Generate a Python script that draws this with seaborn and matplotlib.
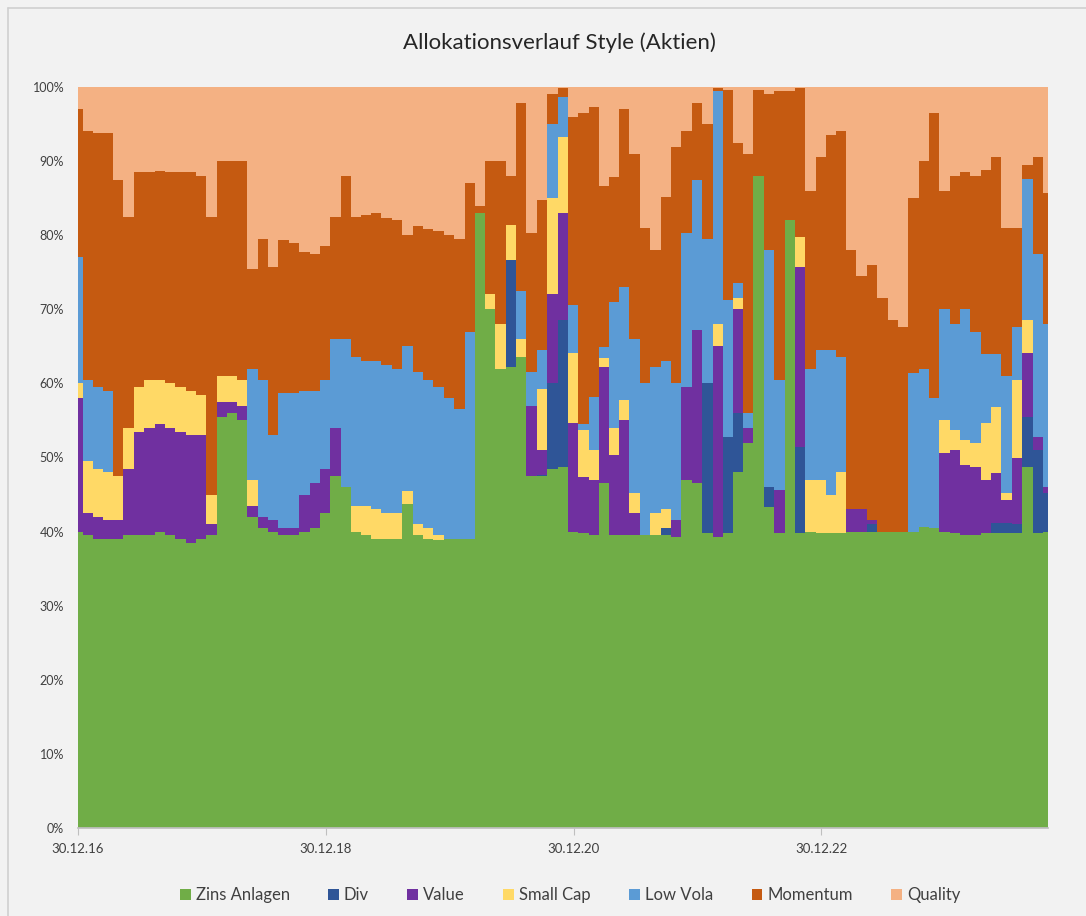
import seaborn as sns
import matplotlib.pyplot as plt
import matplotlib.ticker as mticker
from matplotlib.lines import Line2D
import pandas as pd
import numpy as np

sns.set_theme(style='white')
plt.rcParams['font.family'] = ['Lato', 'DejaVu Sans']

# monthly allocation shares in %, starting 30.12.16
zins = [40, 39.5, 39, 39, 39, 39.5, 39.5, 39.5, 40, 39.5,
        39, 38.5, 39, 39.5, 55.5, 56, 55, 42, 40.5, 40,
        39.5, 39.5, 40, 40.5, 42.5, 47.5, 46, 40, 39.5, 39,
        39, 39, 43.7, 39.5, 39, 38.8, 39, 39, 39, 83,
        70, 62, 62.2, 63.5, 47.5, 47.5, 48.5, 48.7, 40, 39.8,
        39.5, 46.5, 39.6, 39.6, 39.6, 39.6, 39.6, 39.6, 39.3, 47,
        46.5, 39.8, 39.3, 39.8, 48, 52, 88, 43.3, 39.8, 82,
        39.8, 40, 39.8, 39.8, 39.8, 40, 40, 40, 40, 40,
        40, 40, 40.6, 40.5, 40, 39.8, 39.5, 39.5, 39.8, 39.8,
        39.8, 39.8, 48.7, 39.8, 40]
div = [0, 0, 0, 0, 0, 0, 0, 0, 0, 0,
       0, 0, 0, 0, 0, 0, 0, 0, 0, 0,
       0, 0, 0, 0, 0, 0, 0, 0, 0, 0,
       0, 0, 0, 0, 0, 0, 0, 0, 0, 0,
       0, 0, 14.5, 0, 0, 0.2, 11.5, 19.8, 0, 0,
       0, 0, 0, 0, 0, 0, 0, 0.9, 0, 0,
       0, 20.2, 0, 13, 8, 0, 0, 2.7, 0, 0,
       11.6, 0, 0, 0, 0, 0, 0, 1, 0, 0,
       0, 0, 0, 0, 0, 0, 0, 0, 0, 1.4,
       1.4, 1.2, 6.8, 11.2, 5.2]
value = [18, 3, 3, 2.5, 2.5, 9, 14, 14.5, 14.5, 14.5,
         14.5, 14.5, 14, 1.5, 2, 1.5, 2, 1.5, 1.5, 1.5,
         1, 1, 5, 6, 6, 6.5, 0, 0, 0, 0,
         0, 0, 0, 0, 0, 0, 0, 0, 0, 0,
         0, 0, 0, 0, 9.5, 3.3, 12, 14.5, 14.6, 7.6,
         7.5, 15.7, 10.7, 15.4, 2.9, 0, 0, 0, 2.3, 12.5,
         20.7, 0, 25.7, 0, 14, 2, 0, 0, 5.8, 0,
         24.3, 0, 0, 0, 0, 3, 3, 0.5, 0, 0,
         0, 0, 0, 0, 10.6, 11.2, 9.5, 9.2, 7.2, 6.7,
         3, 9, 8.6, 1.8, 0.8]
small_cap = [2, 7, 6.5, 6.5, 6, 5.5, 6, 6.5, 6, 6,
             6, 6, 5.5, 4, 3.5, 3.5, 3.5, 3.5, 0, 0,
             0, 0, 0, 0, 0, 0, 0, 3.5, 4, 4,
             3.5, 3.5, 1.8, 1.5, 1.5, 0.7, 0, 0, 0, 0,
             2, 6, 4.7, 2.5, 0, 8.3, 13, 10.2, 9.5, 6.3,
             4, 1.2, 3.7, 2.8, 2.7, 0, 2.9, 2.5, 0, 0,
             0, 0, 3, 0, 1.5, 0, 0, 0, 0, 0,
             4.1, 7, 7.2, 5.2, 8.2, 0, 0, 0, 0, 0,
             0, 0, 0, 0, 4.4, 2.7, 3.3, 3.3, 7.6, 8.9,
             1, 10.5, 4.5, 0, 0]
low_vola = [17, 11, 11, 11, 0, 0, 0, 0, 0, 0,
            0, 0, 0, 0, 0, 0, 0, 15, 18.5, 11.5,
            18.2, 18.2, 14, 12.5, 12, 12, 20, 20, 19.5, 20,
            20, 19.5, 19.5, 20.5, 20, 20, 19, 17.5, 28, 0,
            0, 0, 0, 6.5, 4.5, 5.2, 10, 5.4, 6.5, 0.8,
            7.2, 1.5, 17, 15.2, 20.8, 20.4, 19.7, 20, 18.4, 20.8,
            20.2, 19.5, 31.5, 18.5, 2, 2, 0, 32, 14.9, 0,
            0, 15, 17.5, 19.5, 15.5, 0, 0, 0, 0, 0,
            0, 21.4, 21.4, 17.5, 15, 14.3, 17.7, 15, 9.4, 7.2,
            15.8, 7.1, 19, 24.7, 22]
momentum = [20, 33.5, 34.3, 34.8, 40, 28.5, 29, 28, 28.2, 28.5,
            29, 29.5, 29.5, 37.5, 29, 29, 29.5, 13.5, 19, 22.7,
            20.7, 20.3, 18.7, 18.5, 18, 16.5, 22, 19, 19.7, 20,
            19.8, 20, 15, 19.8, 20.3, 21, 22, 23, 20, 1,
            18, 22, 6.6, 25.3, 18.8, 20.2, 4, 1.2, 25.4, 42,
            39.1, 21.8, 16.8, 24, 25, 21, 15.8, 22.2, 31.9, 13.7,
            10.4, 15.5, 0.4, 28.3, 19, 35, 11.6, 21, 39, 17.5,
            20, 24, 26, 29, 30.5, 35, 31.5, 34.5, 31.5, 28.5,
            27.6, 23.6, 28, 38.5, 16, 20, 18.5, 21, 24.8, 26.5,
            20, 13.4, 1.9, 13, 17.7]
quality = [3, 6, 6.2, 6.2, 12.5, 17.5, 11.5, 11.5, 11.3, 11.5,
           11.5, 11.5, 12, 17.5, 10, 10, 10, 24.5, 20.5, 24.3,
           20.6, 21, 22.3, 22.5, 21.5, 17.5, 12, 17.5, 17.3, 17,
           17.7, 18, 20, 18.7, 19.2, 19.5, 20, 20.5, 13, 16,
           10, 10, 12, 2.2, 19.7, 15.3, 1, 0.2, 4, 3.5,
           2.7, 13.3, 12.2, 3, 9, 19, 22, 14.8, 8.1, 6,
           2.2, 5, 0.1, 0.4, 7.5, 9, 0.4, 1, 0.5, 0.5,
           0.2, 14, 9.5, 6.5, 6, 22, 25.5, 24, 28.5, 31.5,
           32.4, 15, 10, 3.5, 14, 12, 11.5, 12, 11.2, 9.5,
           19, 19, 10.5, 9.5, 14.3]

series_names = ['Zins Anlagen', 'Div', 'Value', 'Small Cap', 'Low Vola', 'Momentum', 'Quality']
colors = ['#70AD47', '#2F5597', '#7030A0', '#FFD966', '#5B9BD5', '#C55A11', '#F4B183']
tick_dates = ['2016-12-30', '2018-12-30', '2020-12-30', '2022-12-30']
tick_labels = ['30.12.16', '30.12.18', '30.12.20', '30.12.22']

dates = pd.date_range('2016-12-30', periods=len(zins), freq=pd.DateOffset(months=1))
df = pd.DataFrame(dict(zip(series_names,
                           [zins, div, value, small_cap, low_vola, momentum, quality])),
                  index=dates)

fig = plt.figure(figsize=(10.86, 9.16), dpi=100, facecolor='#F2F2F2')
ax = fig.add_axes([78 / 1086, 1 - 828 / 916, 970 / 1086, 741 / 916])
ax.set_facecolor('#F2F2F2')

bottom = np.zeros(len(df))
for name, col in zip(series_names, colors):
    top = bottom + df[name].values
    ax.fill_between(df.index, bottom, top, step='mid', color=col, lw=0, label=name)
    bottom = top

ax.set_xlim(df.index[0], df.index[-1])
ax.set_ylim(0, 100)
ax.set_yticks(range(0, 101, 10))
ax.yaxis.set_major_formatter(mticker.FuncFormatter(lambda v, p: f'{v:.0f}%'))
ax.set_xticks(pd.to_datetime(tick_dates))
ax.set_xticklabels(tick_labels)
ax.tick_params(axis='y', length=0, pad=10, labelsize=9, labelcolor='#404040')
ax.tick_params(axis='x', length=5, width=0.8, color='#BFBFBF', direction='out',
               pad=6, labelsize=9.5, labelcolor='#404040', bottom=True)
for s in ['top', 'right', 'left']:
    ax.spines[s].set_visible(False)
ax.spines['bottom'].set_color('#BFBFBF')
ax.grid(False)

fig.text(0.515, 1 - 43 / 916, 'Allokationsverlauf Style (Aktien)', ha='center', va='center',
         fontsize=16, color='#262626')

fig.legend(*ax.get_legend_handles_labels(), loc='center', bbox_to_anchor=(0.525, 1 - 895 / 916),
           ncol=7, frameon=False, fontsize=12, handlelength=0.65, handleheight=0.65,
           handletextpad=0.3, columnspacing=2.3, labelcolor='#404040')

# outer chart frame
fig.add_artist(Line2D([8 / 1086, 8 / 1086], [0, 1 - 8 / 916], transform=fig.transFigure,
                      color='#D0D0D0', lw=1.2))
fig.add_artist(Line2D([8 / 1086, 1], [1 - 8 / 916, 1 - 8 / 916], transform=fig.transFigure,
                      color='#D0D0D0', lw=1.2))

fig.savefig('out.png', dpi=100, facecolor=fig.get_facecolor())
